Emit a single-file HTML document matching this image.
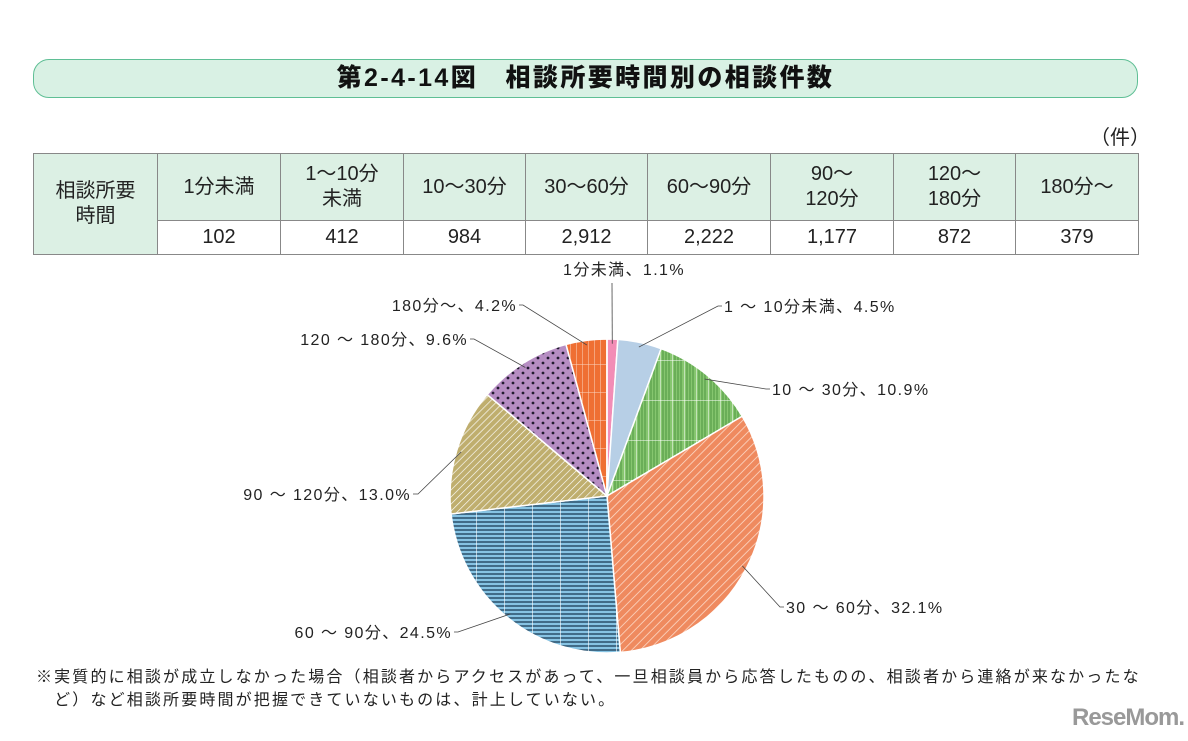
<!DOCTYPE html>
<html><head><meta charset="utf-8"><style>
body{margin:0;background:#fff;width:1188px;height:741px;overflow:hidden;position:relative;font-family:"Liberation Sans","Noto Sans CJK JP",sans-serif;color:#222}
#title{position:absolute;left:33px;top:59px;width:1103px;height:37px;border:1.5px solid #5fbf95;border-radius:16px;background:#d9f1e4;text-align:center;font-weight:900;font-size:25px;letter-spacing:2.4px;line-height:37px;color:#111}
#unit{position:absolute;left:1090px;top:121px;font-size:20px}
table{position:absolute;left:33px;top:153px;border-collapse:collapse;font-size:20px}
td{border:1px solid #888;text-align:center;padding:0;line-height:25px}
.h{background:#dcf0e4;height:66px}
.v{height:33px;background:#fff}
#note{position:absolute;left:36px;top:666px;font-size:16px;letter-spacing:2.15px;line-height:23px;white-space:nowrap}
#wm{position:absolute;left:1072px;top:704px;font-size:24px;font-weight:bold;color:#999;letter-spacing:-1px}
svg{position:absolute;left:0;top:0}
.lbl{font-size:16px;letter-spacing:1.4px;fill:#222}
</style></head><body>
<div id="title">第2-4-14図　相談所要時間別の相談件数</div>
<div id="unit">（件）</div>
<table>
<tr><td rowspan="2" class="h" style="width:123px">相談所要<br>時間</td>
<td class="h" style="width:122px">1分未満</td><td class="h" style="width:122px">1～10分<br>未満</td><td class="h" style="width:121px">10～30分</td><td class="h" style="width:121px">30～60分</td><td class="h" style="width:122px">60～90分</td><td class="h" style="width:122px">90～<br>120分</td><td class="h" style="width:121px">120～<br>180分</td><td class="h" style="width:122px">180分～</td></tr>
<tr><td class="v">102</td><td class="v">412</td><td class="v">984</td><td class="v">2,912</td><td class="v">2,222</td><td class="v">1,177</td><td class="v">872</td><td class="v">379</td></tr>
</table>
<svg id="pie" width="1188" height="741">
<defs>
<pattern id="pGreen" width="12" height="40" patternUnits="userSpaceOnUse"><rect width="12" height="40" fill="#86c66f"/><path d="M3 0V40M6 0V40M9 0V40" stroke="#3f8a35" stroke-width="0.8"/><path d="M0 0V40M0 0H12" stroke="#fff" stroke-width="1"/></pattern>
<pattern id="pSalmon" width="6" height="6" patternUnits="userSpaceOnUse" patternTransform="rotate(45)"><rect width="6" height="6" fill="#ef8a5f"/><path d="M0 0V6" stroke="#fde0d0" stroke-width="1.5"/></pattern>
<pattern id="pBlue" width="28" height="4" patternUnits="userSpaceOnUse"><rect width="28" height="4" fill="#86c3e3"/><path d="M0 2H28" stroke="#2a4f6a" stroke-width="1.4"/><path d="M0 0V4" stroke="#fff" stroke-width="1.2"/></pattern>
<pattern id="pTan" width="5" height="5" patternUnits="userSpaceOnUse" patternTransform="rotate(45)"><rect width="5" height="5" fill="#bfae6e"/><path d="M0 0V5" stroke="#fff" stroke-width="1.3"/></pattern>
<pattern id="pPurple" width="10" height="10" patternUnits="userSpaceOnUse"><rect width="10" height="10" fill="#b68dc3"/><circle cx="3" cy="3" r="1.4" fill="#221a30"/><circle cx="8" cy="8" r="1.4" fill="#221a30"/></pattern>
<pattern id="pOrange" width="6" height="28" patternUnits="userSpaceOnUse"><rect width="6" height="28" fill="#ef6f33"/><path d="M0 0V28M0 0H6" stroke="#fbd7c3" stroke-width="1"/></pattern>
</defs>
<g id="slices"></g><g id="labels"></g>
</svg>
<div id="note">※実質的に相談が成立しなかった場合（相談者からアクセスがあって、一旦相談員から応答したものの、相談者から連絡が来なかったな<br>　ど）など相談所要時間が把握できていないものは、計上していない。</div>
<div id="wm">ReseMom.</div>
<script>
const categories=["1分未満","1 ～ 10分未満","10 ～ 30分","30 ～ 60分","60 ～ 90分","90 ～ 120分","120 ～ 180分","180分～"];
const values=[1.1,4.5,10.9,32.1,24.5,13.0,9.6,4.2];
const valueLabels=["1.1%","4.5%","10.9%","32.1%","24.5%","13.0%","9.6%","4.2%"];
const fills=["#f28db6","#b7cfe6","url(#pGreen)","url(#pSalmon)","url(#pBlue)","url(#pTan)","url(#pPurple)","url(#pOrange)"];
// label layout: [elbowX, elbowY, textX, anchor]
const layout=[[612,283,624,"middle"],[718,306,724,"start"],[766,389,772,"start"],[780,607,786,"start"],[458,632,452,"end"],[418,494,411,"end"],[474,339,468,"end"],[523,305,517,"end"]];
const cx=607,cy=496,r=157,NS="http://www.w3.org/2000/svg";
const total=values.reduce((a,b)=>a+b,0);
function pt(a,rr){return [cx+rr*Math.sin(a),cy-rr*Math.cos(a)];}
let acc=0;const gs=document.getElementById('slices'),gl=document.getElementById('labels');
values.forEach((v,i)=>{
 const a0=acc/total*2*Math.PI;acc+=v;const a1=acc/total*2*Math.PI;
 const p0=pt(a0,r),p1=pt(a1,r);const large=(a1-a0)>Math.PI?1:0;
 const p=document.createElementNS(NS,'path');
 p.setAttribute('d',`M${cx},${cy}L${p0[0]},${p0[1]}A${r},${r} 0 ${large} 1 ${p1[0]},${p1[1]}Z`);
 p.setAttribute('fill',fills[i]);p.setAttribute('stroke','#fff');p.setAttribute('stroke-width','1.5');
 
 
 gs.appendChild(p);
 const am=(a0+a1)/2,s=pt(am,r*0.97),L=layout[i];
 const ln=document.createElementNS(NS,'polyline');
 const endX=L[3]==="middle"?L[0]:(L[3]==="start"?L[2]-2:L[2]+2);
 ln.setAttribute('points',`${s[0]},${s[1]} ${L[0]},${L[1]} ${endX},${L[1]}`);
 ln.setAttribute('fill','none');ln.setAttribute('stroke','#444');ln.setAttribute('stroke-width','0.8');
 
 
 gl.appendChild(ln);
 const t=document.createElementNS(NS,'text');
 t.setAttribute('x',L[2]);t.setAttribute('y',L[3]==="middle"?L[1]-8:L[1]+6);
 t.setAttribute('text-anchor',L[3]);t.setAttribute('class','lbl');
 t.textContent=categories[i]+"、"+valueLabels[i];
 
 
 gl.appendChild(t);
});
</script>
</body></html>
